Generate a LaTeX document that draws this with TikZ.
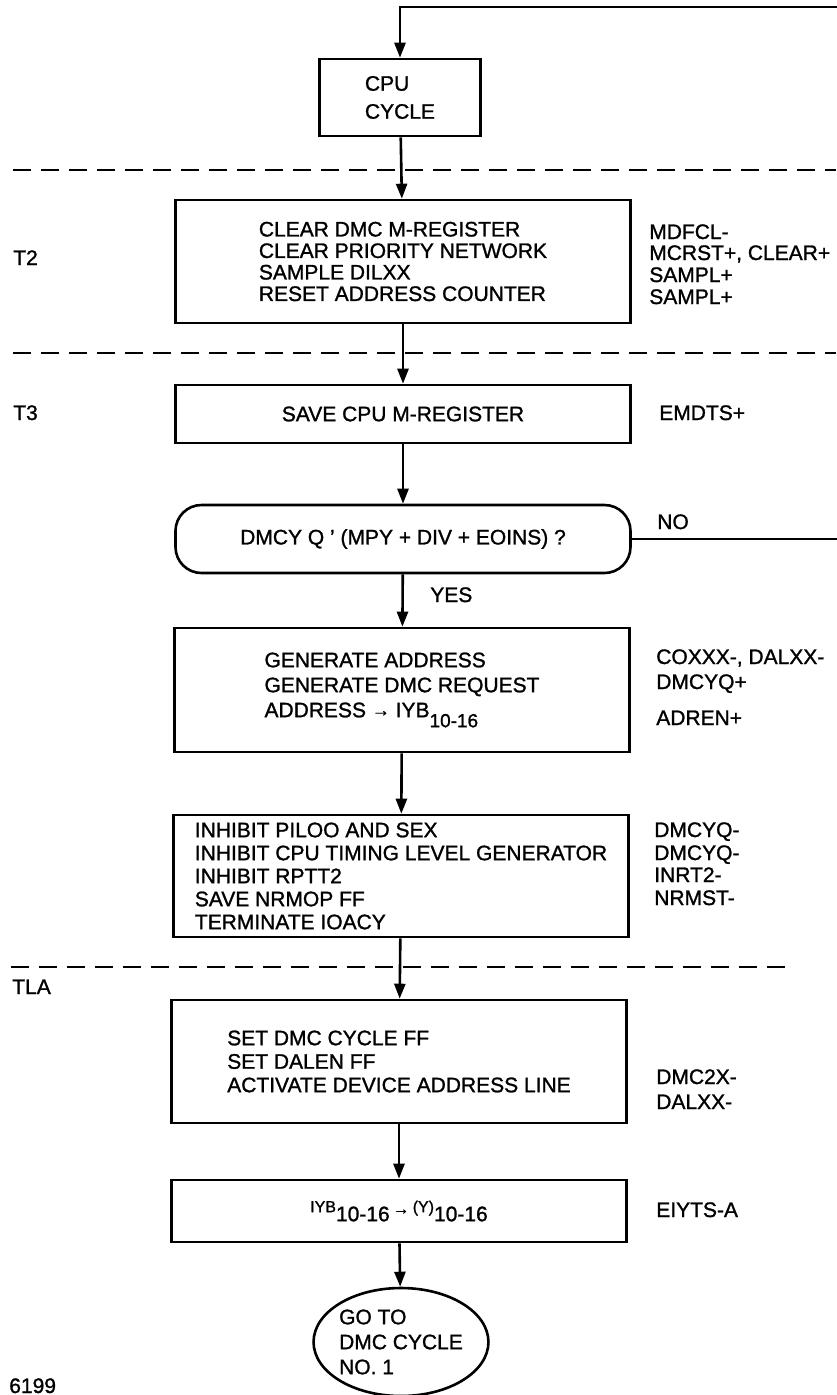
\documentclass[tikz,border=0pt]{standalone}
\usepackage{fontspec}
\setmainfont{Liberation Sans}[FakeBold=1.2]
\usetikzlibrary{arrows.meta,shapes.geometric}

\begin{document}
\begin{tikzpicture}[x=1pt, y=-1pt, line width=2.6pt,
    every node/.style={inner sep=0pt, font=\fontsize{21}{23}\selectfont},
    box/.style={draw, rectangle, minimum width=455pt, align=left},
    lbl/.style={anchor=base west},
    flow/.style={-{Triangle[length=15pt, width=11pt]}},
    sep/.style={line width=2.4pt, dash pattern=on 18pt off 10pt}]

    \useasboundingbox (0,0) rectangle (836,1395);

    \node[draw, minimum width=161pt, minimum height=77pt, align=left,
          font=\fontsize{21}{28}\selectfont] (cpu) at (400,97.5) {CPU\\CYCLE};
    \node[box, minimum height=123pt, font=\fontsize{21}{21.5}\selectfont] (clr) at (403,261.5)
        {CLEAR DMC M-REGISTER\\CLEAR PRIORITY NETWORK\\SAMPLE DILXX\\RESET ADDRESS COUNTER};
    \node[box, minimum height=58pt] (save) at (403,414) {SAVE CPU M-REGISTER};
    \node[box, minimum height=68pt, rounded corners=26pt] (dmcy) at (403,539)
        {DMCY Q ' (MPY + DIV + EOINS) ?};
    \node[box, minimum height=124pt, font=\fontsize{21}{25}\selectfont] (gen) at (402,690)
        {GENERATE ADDRESS\\GENERATE DMC REQUEST\\ADDRESS \raisebox{1pt}{\fontsize{18}{18}\selectfont →} IYB\raisebox{-10pt}{\fontsize{19}{19}\selectfont 10-16}};
    \node[box, minimum height=122pt] (inh) at (401,876)
        {INHIBIT PILOO AND SEX\\INHIBIT CPU TIMING LEVEL GENERATOR\\INHIBIT RPTT2\\SAVE NRMOP FF\\TERMINATE IOACY};
    \node[box, minimum height=123pt, font=\fontsize{21}{23.5}\selectfont] (dmcset) at (399,1061.5)
        {SET DMC CYCLE FF\\SET DALEN FF\\ACTIVATE DEVICE ADDRESS LINE};
    \node[box, minimum height=62pt] (yxfer) at (399,1211)
        {\raisebox{9pt}{\fontsize{16}{16}\selectfont IYB}10-16\,\raisebox{7pt}{\fontsize{16}{16}\selectfont →}\,\raisebox{9pt}{\fontsize{16}{16}\selectfont (Y)}10-16};
    \node[draw, ellipse, minimum width=174pt, minimum height=108pt, align=left,
          font=\fontsize{21}{25}\selectfont] (goto) at (401,1342) {GO TO\\DMC CYCLE\\NO. 1};

    \draw[sep] (13,170) -- (836,170);
    \draw[sep] (13,353) -- (836,353);
    \draw[sep] (11,967) -- (786,967);

    \node[lbl] (t2) at (12,265) {T2};
    \node[lbl] (t3) at (12,420) {T3};
    \node[lbl] (tla) at (11,994) {TLA};
    \node[lbl] (fig) at (8,1393) {6199};

    \foreach \y/\s [count=\i] in {239/MDFCL-, 260/{MCRST+, CLEAR+}, 282/SAMPL+, 304/SAMPL+} {
        \node[lbl] (sa\i) at (648,\y) {\s};
    }
    \node[lbl] (sb) at (658,420) {EMDTS+};
    \foreach \y/\s [count=\i] in {664/{COXXX-, DALXX-}, 689/DMCYQ+, 725/ADREN+} {
        \node[lbl] (sc\i) at (655,\y) {\s};
    }
    \foreach \y/\s [count=\i] in {837/DMCYQ-, 860/DMCYQ-, 882/INRT2-, 905/NRMST-} {
        \node[lbl] (sd\i) at (653,\y) {\s};
    }
    \foreach \y/\s [count=\i] in {1084/DMC2X-, 1109/DALXX-} {
        \node[lbl] (se\i) at (655,\y) {\s};
    }
    \node[lbl] (sf) at (655,1217) {EIYTS-A};

    \node[lbl] (no) at (656,529) {NO};
    \node[lbl] (yes) at (429,602) {YES};

    \coordinate (retlow) at (840,539);
    \coordinate (rettop) at (840,7);

    \draw[flow] (cpu) -- (clr);
    \draw[flow] (clr) -- (save);
    \draw[flow] (save) -- (dmcy);
    \draw[flow] (dmcy) -- (gen);
    \draw[flow] (gen) -- (inh);
    \draw[flow] (inh) -- (dmcset);
    \draw[flow] (dmcset) -- (yxfer);
    \draw[flow] (yxfer) -- (goto);
    \draw[flow] (dmcy.east) -- (retlow) -- (rettop) -| (cpu.north);
\end{tikzpicture}
\end{document}
